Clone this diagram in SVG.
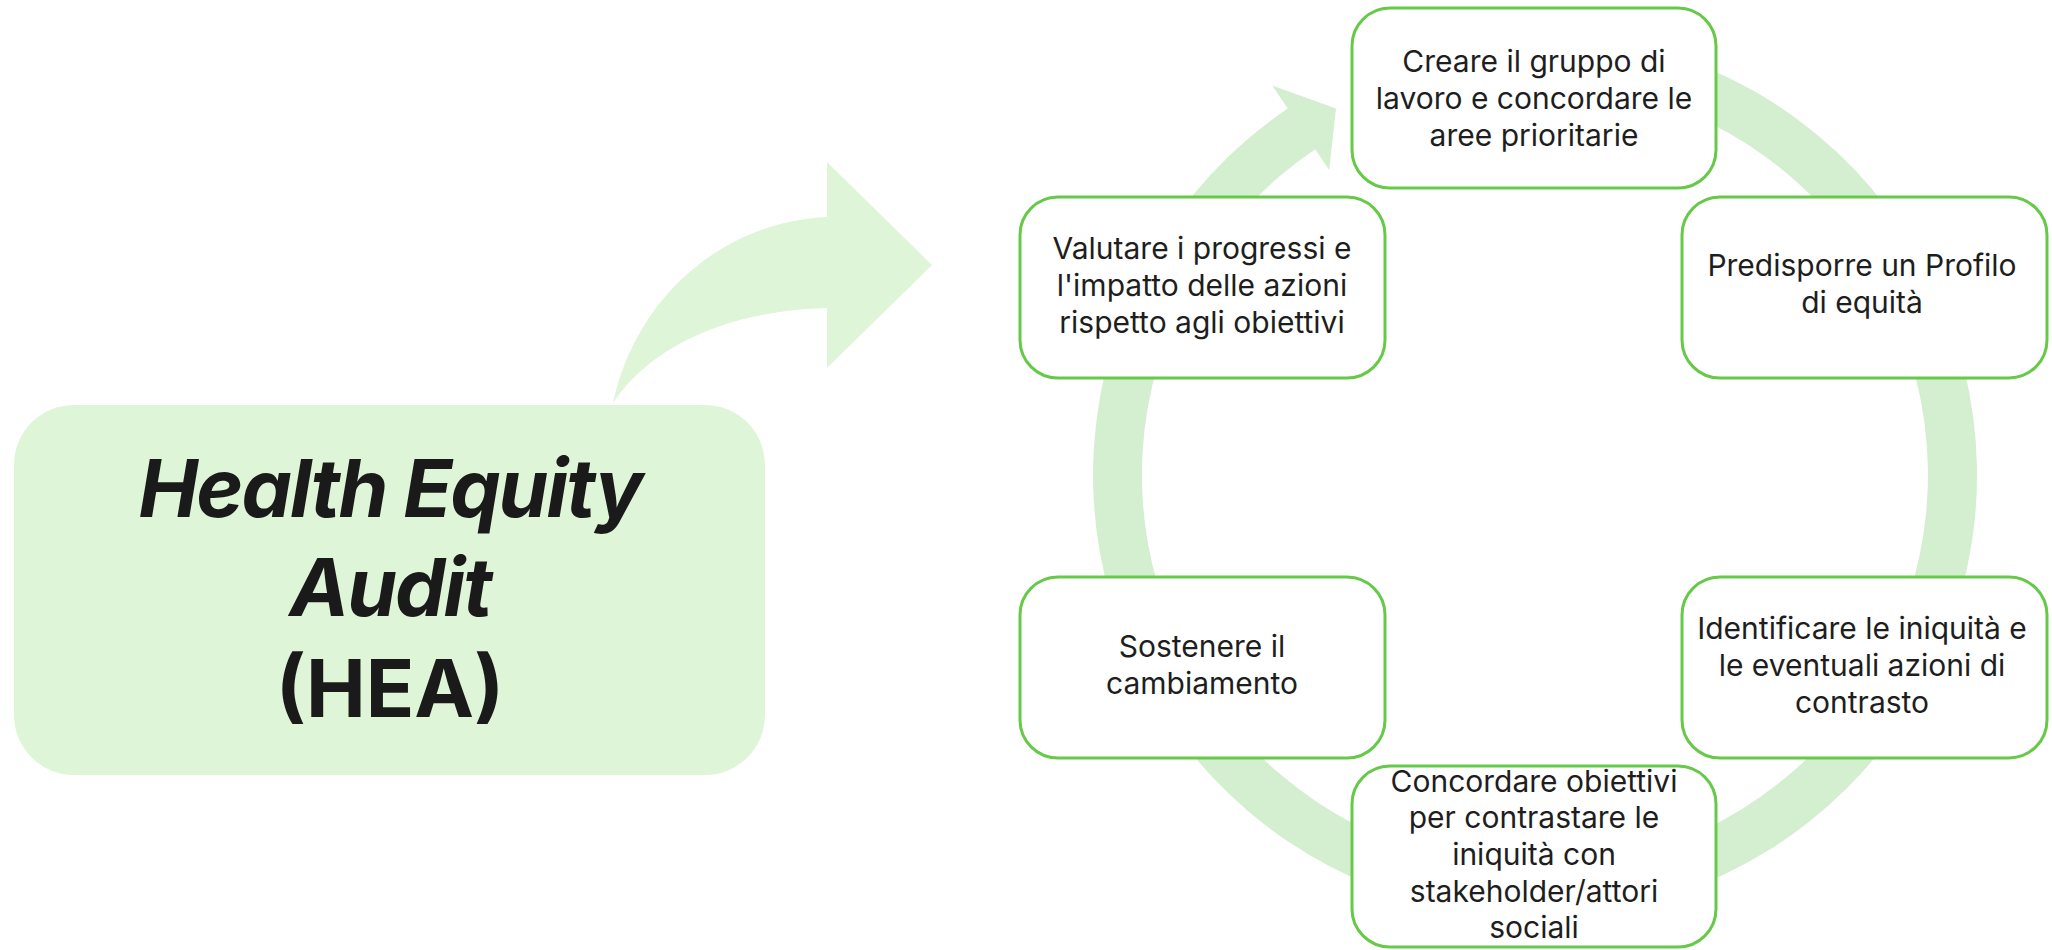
<svg xmlns="http://www.w3.org/2000/svg" width="2052" height="950" viewBox="0 0 2052 950">
<style>
.node rect{fill:#ffffff;stroke:#66c948;stroke-width:3}
.node text{font-family:Inter,"Liberation Sans",sans-serif;font-size:30px;fill:#1e1e1e;text-anchor:middle}
.big{font-family:Inter,"Liberation Sans",sans-serif;font-size:80px;font-weight:700;fill:#1a1a1a;text-anchor:middle}
</style>
<rect width="2052" height="950" fill="#ffffff"/>
<g id="connectors">
<path id="cycle-arrow" fill="#d3efcf" d="M1611.8,39.7 A442,442 0 1 1 1287.8,108.6 L1272.2,85.4 L1336.0,108.5 L1329.2,169.9 L1315.2,149.2 A393,393 0 1 0 1603.2,88.0 Z"/>
<path id="hea-arrow" fill="#dff5d8" d="M613,403 C635,300 720,222 827,217 L827,162 L932,265 L827,368 L827,308 C740,310 655,340 613,403 Z"/>
</g>
<g id="hea">
<rect x="14" y="405" width="751" height="370" rx="60" fill="#dff5d8"/>
<text class="big" x="390" y="517" font-style="italic" letter-spacing="-2">Health Equity</text>
<text class="big" x="390" y="616" font-style="italic" letter-spacing="-2">Audit</text>
<text class="big" x="390" y="717" font-weight="600">(HEA)</text>
</g>
<g id="n1" class="node">
<rect x="1352" y="8" width="364" height="180" rx="38"/>
<text x="1534" y="72">Creare il gruppo di</text>
<text x="1534" y="109">lavoro e concordare le</text>
<text x="1534" y="146">aree prioritarie</text>
</g>
<g id="n2" class="node">
<rect x="1682" y="197" width="365" height="181" rx="38"/>
<text x="1862" y="276">Predisporre un Profilo</text>
<text x="1862" y="313">di equità</text>
</g>
<g id="n3" class="node">
<rect x="1682" y="577" width="365" height="181" rx="38"/>
<text x="1862" y="639">Identificare le iniquità e</text>
<text x="1862" y="676">le eventuali azioni di</text>
<text x="1862" y="713">contrasto</text>
</g>
<g id="n4" class="node">
<rect x="1352" y="766" width="364" height="181" rx="38"/>
<text x="1534" y="792">Concordare obiettivi</text>
<text x="1534" y="828">per contrastare le</text>
<text x="1534" y="865">iniquità con</text>
<text x="1534" y="902">stakeholder/attori</text>
<text x="1534" y="938">sociali</text>
</g>
<g id="n5" class="node">
<rect x="1020" y="577" width="365" height="181" rx="38"/>
<text x="1202" y="657">Sostenere il</text>
<text x="1202" y="694">cambiamento</text>
</g>
<g id="n6" class="node">
<rect x="1020" y="197" width="365" height="181" rx="38"/>
<text x="1202" y="259">Valutare i progressi e</text>
<text x="1202" y="296">l'impatto delle azioni</text>
<text x="1202" y="333">rispetto agli obiettivi</text>
</g>
</svg>
